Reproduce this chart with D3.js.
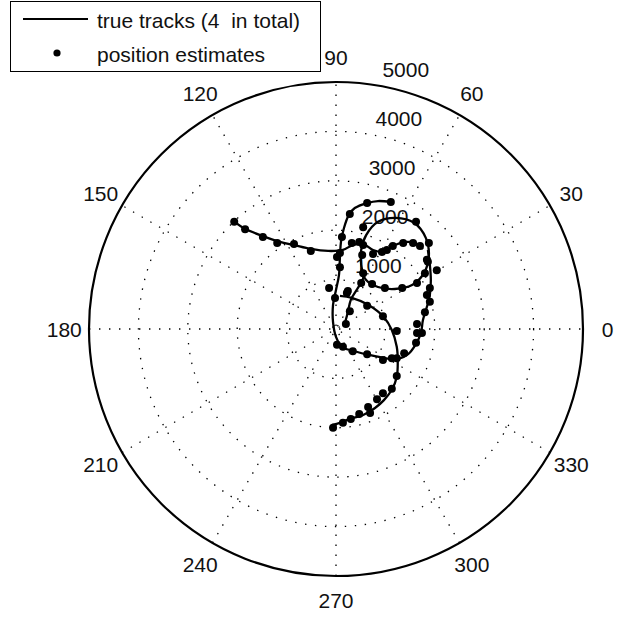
<!DOCTYPE html>
<html>
<head>
<meta charset="utf-8">
<script src="https://cdn.jsdelivr.net/npm/d3@7"></script>
<style>
  body { margin: 0; background: #fff; }
  svg { display: block; font-family: "Liberation Sans", Arial, sans-serif; }
  text { white-space: pre; }
</style>
</head>
<body>
<div id="chart"></div>
<script>
// positions in metres (x east, y north)
var track1 = [[-2080,2190],[-1860,2040],[-1480,1880],[-1190,1780],[-850,1700],[-510,1620],[-160,1580],[140,1600],[340,1700],[550,1720],[750,1600],[950,1560],[1150,1680],[1380,1760],[1600,1740],[1760,1620]];
var track2 = [[1110,2570],[850,2590],[630,2550],[380,2450],[260,2310],[160,2040],[100,1760],[80,1460],[60,1090],[0,790],[-60,490],[-60,140],[0,-160],[120,-360],[380,-450],[690,-530],[990,-590],[1250,-610],[1460,-510],[1620,-300],[1720,-80],[1760,180],[1840,450],[1900,690],[1920,990],[1900,1300],[1860,1600]];
var track3 = [[180,120],[240,340],[300,590],[430,810],[550,1030],[510,1300],[510,1600],[610,1900],[850,2170],[1210,2250],[1580,2150],[1820,1840],[1880,1480],[1780,1130],[1540,890],[1190,810],[850,850],[610,990],[510,1230]];
var track4 = [[-80,-1940],[80,-1900],[280,-1820],[550,-1740],[790,-1600],[970,-1440],[1130,-1230],[1230,-970],[1250,-670],[1230,-360],[1130,-20],[970,240],[650,490],[320,630],[80,670]];

var est1 = [[-2060,2170],[-1840,2020],[-1480,1860],[-1190,1740],[-850,1720],[-510,1580],[80,1540],[320,1740],[470,1760],[550,1700],[750,1520],[930,1560],[1030,1600],[1150,1680],[1360,1740],[1560,1740],[1700,1680]];
var est2 = [[1110,2570],[630,2550],[280,2330],[120,1860],[20,1460],[80,1250],[-140,830],[-20,630],[20,-320],[140,-360],[340,-450],[630,-510],[950,-630],[1130,-590],[1230,-590],[1380,-490],[1620,-280],[1640,-80],[1740,-80],[1640,100],[1800,340],[1900,550],[1840,690],[1900,830],[2040,1190],[1860,1360]];
var est3 = [[200,100],[280,360],[240,770],[510,930],[550,1130],[530,1500],[550,2060],[1620,2170],[1880,1740],[1840,1400],[1800,1130],[1640,930],[1340,830],[990,830],[730,910]];
var est4 = [[-60,-2000],[140,-1900],[300,-1820],[470,-1720],[650,-1580],[690,-1700],[830,-1420],[950,-1300],[1130,-1210],[1230,-950],[1230,-40],[950,260],[630,470],[220,730]];

var rings = [1000, 2000, 3000, 4000];
var rmax = 5000;
var angleTicks = [0, 30, 60, 90, 120, 150, 180, 210, 240, 270, 300, 330];
var legendLabels = ["true tracks (4  in total)", "position estimates"];

var width = 629, height = 617;
var cx = 336, cy = 329, R = 247;

var svg = d3.select("#chart").append("svg")
  .attr("width", width)
  .attr("height", height);

var x = d3.scaleLinear().domain([-rmax, rmax]).range([cx - R, cx + R]);
var y = d3.scaleLinear().domain([-rmax, rmax]).range([cy + R, cy - R]);
var r = d3.scaleLinear().domain([0, rmax]).range([0, R]);

function px(rho, deg) { return x(rho * Math.cos(deg * Math.PI / 180)); }
function py(rho, deg) { return y(rho * Math.sin(deg * Math.PI / 180)); }

var grid = svg.append("g");

grid.selectAll("circle.ring")
  .data(rings)
  .enter().append("circle")
  .attr("class", "ring")
  .attr("cx", cx).attr("cy", cy)
  .attr("r", function(d) { return r(d); })
  .attr("fill", "none")
  .attr("stroke", "#000")
  .attr("stroke-width", 1.3)
  .attr("stroke-dasharray", "1.4 8.6");

grid.selectAll("line.spoke")
  .data(angleTicks.slice(0, 6))
  .enter().append("line")
  .attr("class", "spoke")
  .attr("x1", function(d) { return px(rmax, d + 180); })
  .attr("y1", function(d) { return py(rmax, d + 180); })
  .attr("x2", function(d) { return px(rmax, d); })
  .attr("y2", function(d) { return py(rmax, d); })
  .attr("stroke", "#000")
  .attr("stroke-width", 1.3)
  .attr("stroke-dasharray", "1.4 8.6");

grid.append("circle")
  .attr("cx", cx).attr("cy", cy)
  .attr("r", r(rmax))
  .attr("fill", "none")
  .attr("stroke", "#000")
  .attr("stroke-width", 2.2);

// range labels at 82 degrees
var ringLabels = rings.concat([rmax]);
grid.selectAll("text.rlab")
  .data(ringLabels)
  .enter().append("text")
  .attr("class", "rlab")
  .attr("x", function(d) { return px(d + 50, 82); })
  .attr("y", function(d) { return py(d + 50, 82) - 4.5; })
  .attr("font-size", 21)
  .attr("fill", "#111")
  .text(function(d) { return "  " + d; });

grid.selectAll("text.alab")
  .data(angleTicks)
  .enter().append("text")
  .attr("class", "alab")
  .attr("x", function(d) { return px(rmax * 1.1, d); })
  .attr("y", function(d) { return py(rmax * 1.1, d); })
  .attr("dy", "0.36em")
  .attr("text-anchor", "middle")
  .attr("font-size", 21)
  .attr("fill", "#111")
  .text(function(d) { return d; });

var line = d3.line()
  .x(function(d) { return x(d[0]); })
  .y(function(d) { return y(d[1]); })
  .curve(d3.curveCatmullRom.alpha(0.5));

var tracks = [track1, track2, track3, track4];
var estimates = [est1, est2, est3, est4];

svg.append("g").selectAll("path")
  .data(tracks)
  .enter().append("path")
  .attr("d", line)
  .attr("fill", "none")
  .attr("stroke", "#000")
  .attr("stroke-width", 2.3);

svg.append("g").selectAll("circle")
  .data(d3.merge(estimates))
  .enter().append("circle")
  .attr("cx", function(d) { return x(d[0]); })
  .attr("cy", function(d) { return y(d[1]); })
  .attr("r", 4)
  .attr("fill", "#000");

// legend
var legend = svg.append("g");
legend.append("rect")
  .attr("x", 10.5).attr("y", 1.5)
  .attr("width", 310).attr("height", 70)
  .attr("fill", "#fff")
  .attr("stroke", "#000")
  .attr("stroke-width", 1);
legend.append("line")
  .attr("x1", 23).attr("x2", 88)
  .attr("y1", 19).attr("y2", 19)
  .attr("stroke", "#000")
  .attr("stroke-width", 2);
legend.append("circle")
  .attr("cx", 57).attr("cy", 53)
  .attr("r", 3.6)
  .attr("fill", "#000");
legend.selectAll("text")
  .data(legendLabels)
  .enter().append("text")
  .attr("x", 97)
  .attr("y", function(d, i) { return i ? 62 : 28; })
  .attr("font-size", 21)
  .attr("fill", "#111")
  .text(function(d) { return d; });
</script>
</body>
</html>
